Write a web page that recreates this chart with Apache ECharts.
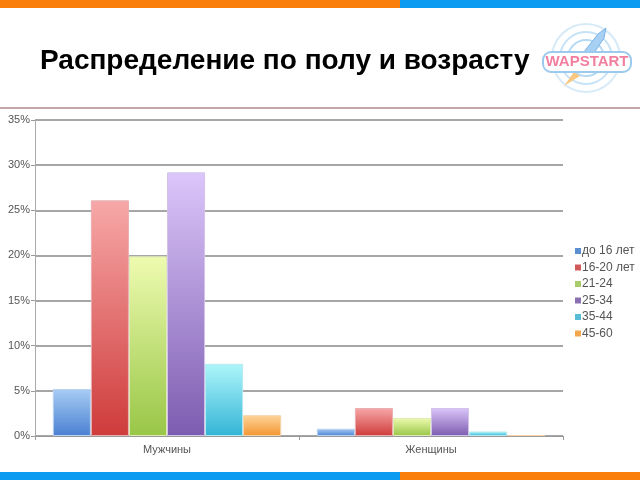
<!DOCTYPE html>
<html>
<head>
<meta charset="utf-8">
<script src="https://cdn.jsdelivr.net/npm/echarts@6/dist/echarts.min.js"></script>
<style>
html,body{margin:0;padding:0;background:#fff;}
#chart{width:640px;height:480px;}
</style>
</head>
<body>
<div id="chart"></div>
<script>
var titleText = 'Распределение по полу и возрасту';
var categories = ['Мужчины', 'Женщины'];
var seriesNames = ['до 16 лет', '16-20 лет', '21-24', '25-34', '35-44', '45-60'];
var valuesUnder16 = [5.2, 0.8];
var values16to20 = [26.1, 3.1];
var values21to24 = [19.9, 2.0];
var values25to34 = [29.2, 3.1];
var values35to44 = [8.0, 0.5];
var values45to60 = [2.3, 0.1];
var yTicks = [0, 5, 10, 15, 20, 25, 30, 35];

var seriesValues = [valuesUnder16, values16to20, values21to24, values25to34, values35to44, values45to60];
var legendColors = ['#5b8fd0', '#d05a5a', '#a8cc6a', '#8a70b0', '#58bcd6', '#f4a84e'];
var gradTop = ['#a8cdf4', '#f7a8a8', '#eefbb0', '#dcc6fa', '#aef6fa', '#ffd49a'];
var gradBottom = ['#4a80d2', '#cf3b3b', '#98c646', '#7c5cb0', '#33b4d6', '#f39530'];
var borders = ['#b8d2f0', '#e8b0b0', '#dfeab8', '#d2c4e8', '#b8e8f0', '#f5d2a8'];

var chart = echarts.init(document.getElementById('chart'), null, {renderer: 'canvas'});

var series = seriesNames.map(function (name, i) {
  return {
    name: name,
    type: 'bar',
    barGap: '0%',
    barCategoryGap: '13.5%',
    data: seriesValues[i],
    itemStyle: {
      color: new echarts.graphic.LinearGradient(0, 0, 0, 1, [
        {offset: 0, color: gradTop[i]},
        {offset: 1, color: gradBottom[i]}
      ]),
      borderColor: borders[i],
      borderWidth: 1
    }
  };
});

var font = '"Liberation Sans", Arial, sans-serif';

var option = {
  animation: false,
  backgroundColor: '#fff',
  grid: {left: 35, right: 77, top: 120, bottom: 44, containLabel: false},
  legend: {
    orient: 'vertical',
    left: 570,
    top: 240,
    itemWidth: 6,
    itemHeight: 6,
    itemGap: 4.5,
    icon: 'rect',
    textStyle: {fontSize: 12, color: '#555', fontFamily: font, padding: [0, 0, 0, -4]},
    data: seriesNames.map(function (n, i) { return {name: n, itemStyle: {color: legendColors[i], borderWidth: 0}}; })
  },
  xAxis: {
    type: 'category',
    data: categories,
    axisLine: {lineStyle: {color: '#999', width: 1}},
    axisTick: {show: true, length: 4, lineStyle: {color: '#999'}},
    axisLabel: {fontSize: 11, color: '#555', fontFamily: font, margin: 8}
  },
  yAxis: {
    type: 'value',
    min: yTicks[0],
    max: yTicks[yTicks.length - 1],
    interval: 5,
    axisLine: {show: true, lineStyle: {color: '#aaa', width: 1}},
    axisTick: {show: true, length: 4, lineStyle: {color: '#999'}},
    axisLabel: {fontSize: 11, color: '#555', fontFamily: font, margin: 5, formatter: '{value}%'},
    splitLine: {show: true, lineStyle: {color: '#888', width: 1.5}}
  },
  series: series,
  graphic: [
    {type: 'rect', shape: {x: 0, y: 0, width: 400, height: 8}, style: {fill: '#fa7f0a'}, z: 10},
    {type: 'rect', shape: {x: 400, y: 0, width: 240, height: 8}, style: {fill: '#0b9cf2'}, z: 10},
    {type: 'rect', shape: {x: 0, y: 472, width: 400, height: 8}, style: {fill: '#0b9cf2'}, z: 10},
    {type: 'rect', shape: {x: 400, y: 472, width: 240, height: 8}, style: {fill: '#fa7f0a'}, z: 10},
    {type: 'rect', shape: {x: 0, y: 107, width: 640, height: 2}, style: {fill: '#c4a6a6'}, z: 10},
    {type: 'text', left: 40, top: 47, style: {text: titleText, fill: '#000', font: 'bold 28px "Liberation Sans", Arial, sans-serif'}, z: 10},
    {type: 'circle', shape: {cx: 586, cy: 58, r: 34}, style: {fill: 'none', stroke: '#d6eaf8', lineWidth: 2}, z: 9},
    {type: 'circle', shape: {cx: 586, cy: 58, r: 26}, style: {fill: 'none', stroke: '#c6e2f6', lineWidth: 2}, z: 9},
    {type: 'circle', shape: {cx: 586, cy: 58, r: 18}, style: {fill: 'none', stroke: '#b6daf4', lineWidth: 2}, z: 9},
    {type: 'polygon', shape: {points: [[576, 62], [598, 34], [606, 28], [604, 38], [584, 68]]}, style: {fill: '#a8d0f2', stroke: '#7ab4e6', lineWidth: 1}, z: 9},
    {type: 'polygon', shape: {points: [[574, 72], [564, 86], [580, 76]]}, style: {fill: '#f8c880'}, z: 9},
    {type: 'rect', shape: {x: 543, y: 52, width: 88, height: 20, r: 8}, style: {fill: '#ffffff', stroke: '#9ccaee', lineWidth: 2}, z: 10},
    {type: 'text', x: 587, y: 62, style: {text: 'WAPSTART', fill: '#f27fa0', font: 'bold 15px "Liberation Sans", Arial, sans-serif', align: 'center', verticalAlign: 'middle'}, z: 11}
  ]
};
chart.setOption(option);
</script>
</body>
</html>
